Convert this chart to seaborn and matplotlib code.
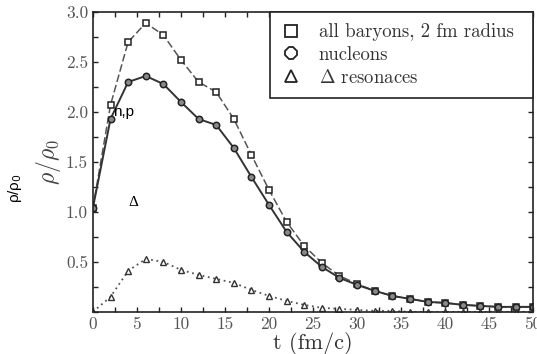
import numpy as np
import pandas as pd
import seaborn as sns
import matplotlib.pyplot as plt
from matplotlib.lines import Line2D
from matplotlib.ticker import MultipleLocator, FuncFormatter

# time steps (fm/c)
t = list(range(0, 51, 2))

# all baryons inside 2 fm radius
all_baryons = [1.04, 2.07, 2.70, 2.89, 2.77, 2.52, 2.30, 2.20, 1.93, 1.57,
               1.22, 0.90, 0.66, 0.49, 0.36, 0.28, 0.21, 0.16, 0.13, 0.10,
               0.09, 0.07, 0.06, 0.05, 0.05, 0.05]
# nucleons
nucleons = [1.04, 1.93, 2.30, 2.36, 2.28, 2.10, 1.93, 1.87, 1.64, 1.35,
            1.07, 0.80, 0.60, 0.45, 0.34, 0.27, 0.21, 0.16, 0.13, 0.10,
            0.09, 0.07, 0.06, 0.05, 0.05, 0.05]
# delta resonances
deltas = [0.0, 0.15, 0.41, 0.53, 0.50, 0.42, 0.37, 0.33, 0.29, 0.22,
          0.16, 0.11, 0.07, 0.04, 0.03, 0.02, 0.01, 0.01, 0.0, 0.0,
          0.0, 0.0, 0.0, 0.0, 0.0, 0.0]

legend_labels = ['all baryons, 2 fm radius', 'nucleons', r'$\Delta$ resonaces']

sns.set_style('ticks')
plt.rcParams['font.family'] = ['cmr10', 'DejaVu Serif']
plt.rcParams['mathtext.fontset'] = 'cm'
plt.rcParams['axes.formatter.use_mathtext'] = True

fig = plt.figure(figsize=(5.37, 3.54), dpi=100)
ax = fig.add_axes([0.173, 0.119, 0.820, 0.847])

df = pd.DataFrame({'t': t, 'all': all_baryons, 'nuc': nucleons, 'delta': deltas})

# all baryons: dashed line, open squares
sns.lineplot(data=df, x='t', y='all', ax=ax, color='#555555', linestyle=(0, (5, 2)),
             linewidth=1.1, marker='s', markersize=4.8, markerfacecolor='white',
             markeredgecolor='#222222', markeredgewidth=1.1)
# nucleons: solid line, gray circles
sns.lineplot(data=df, x='t', y='nuc', ax=ax, color='#333333', linestyle='-',
             linewidth=1.4, marker='o', markersize=4.6, markerfacecolor='#8a8a8a',
             markeredgecolor='#222222', markeredgewidth=1.1)
# delta resonances: dotted line, open triangles
sns.lineplot(data=df, x='t', y='delta', ax=ax, color='#555555', linestyle=(0, (1, 2)),
             linewidth=1.3, marker='^', markersize=4.6, markerfacecolor='white',
             markeredgecolor='#333333', markeredgewidth=1.0)

ax.set_xlim(0, 50)
ax.set_ylim(0, 3.0)
ax.xaxis.set_major_locator(MultipleLocator(5))
ax.xaxis.set_minor_locator(MultipleLocator(2.5))
ax.yaxis.set_major_locator(MultipleLocator(0.5))
ax.yaxis.set_minor_locator(MultipleLocator(0.25))
ax.yaxis.set_major_formatter(FuncFormatter(lambda v, p: '' if abs(v) < 1e-9 else f'{v:.1f}'))
ax.xaxis.set_major_formatter(FuncFormatter(lambda v, p: f'{v:.0f}'))
ax.tick_params(which='both', direction='in', top=True, right=True, length=3.5,
               width=1.0, color='#222222', labelsize=12.5, labelcolor='#555555')
for s in ax.spines.values():
    s.set_linewidth(1.2)
    s.set_color('#222222')

ax.set_xlabel('t (fm/c)', fontsize=16, color='#333333', labelpad=0)
ax.set_ylabel(r'$\rho/\rho_0$', fontsize=17, color='#444444', labelpad=2)

handles = [
    Line2D([], [], linestyle='none', marker='s', markersize=9, markerfacecolor='white',
           markeredgecolor='#222222', markeredgewidth=1.3),
    Line2D([], [], linestyle='none', marker='8', markersize=9, markerfacecolor='white',
           markeredgecolor='#222222', markeredgewidth=1.3),
    Line2D([], [], linestyle='none', marker='^', markersize=9, markerfacecolor='white',
           markeredgecolor='#222222', markeredgewidth=1.3),
]
leg = ax.legend(handles, legend_labels, loc='upper left',
                bbox_to_anchor=(0.402, 0.0, 0.598, 1.0), mode='expand',
                borderaxespad=0, frameon=True, fancybox=False, fontsize=13.5,
                handlelength=1.0, handletextpad=1.0, labelspacing=0.25,
                borderpad=0.6)
leg.get_frame().set_edgecolor('#222222')
leg.get_frame().set_linewidth(1.2)
leg.get_frame().set_alpha(1)
for txt in leg.get_texts():
    txt.set_color('#333333')

# overlaid annotations
fig.text(113 / 537, 1 - 112 / 354, 'n,p', fontsize=11, family='Liberation Sans',
         va='center', ha='left', color='black')
fig.text(128 / 537, 1 - 203 / 354, '\u0394', fontsize=11, family='Liberation Serif',
         va='center', ha='left', color='black')
fig.text(15 / 537, 1 - 188 / 354, r'ρ/ρ$_0$', fontsize=11, family='Liberation Sans',
         math_fontfamily='dejavusans', rotation=90, va='center', ha='center', color='black')

fig.savefig('out.png', dpi=100)
